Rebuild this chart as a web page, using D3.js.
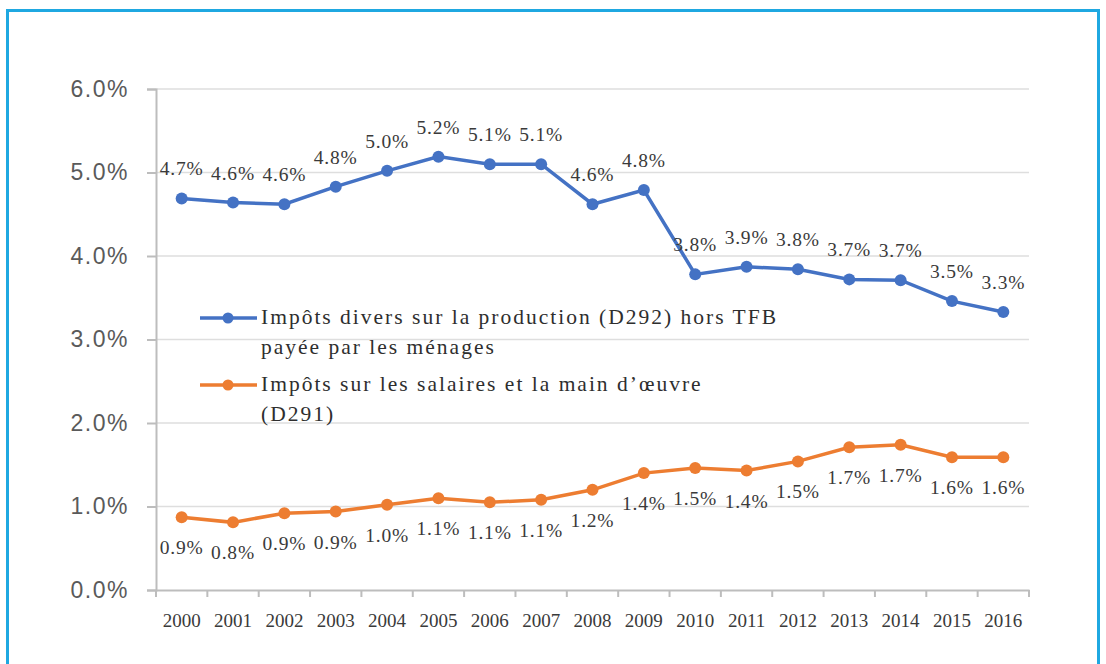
<!DOCTYPE html>
<html>
<head>
<meta charset="utf-8">
<script src="https://cdn.jsdelivr.net/npm/d3@7"></script>
<style>
  body { margin: 0; background: #fff; }
  svg { display: block; }
</style>
</head>
<body>
<div id="chart"></div>
<script>
const years = ['2000','2001','2002','2003','2004','2005','2006','2007','2008',
               '2009','2010','2011','2012','2013','2014','2015','2016'];
const impotsDivers = [4.69,4.64,4.62,4.83,5.02,5.19,5.10,5.10,4.62,4.79,3.78,3.87,3.84,3.72,3.71,3.46,3.33];
const impotsSalaires = [0.87,0.81,0.92,0.94,1.02,1.10,1.05,1.08,1.20,1.40,1.46,1.43,1.54,1.71,1.74,1.59,1.59];
const yTicks = [0,1,2,3,4,5,6];
const legendLabels = [
  ['Impôts divers sur la production (D292) hors TFB', 'payée par les ménages'],
  ['Impôts sur les salaires et la main d\u2019œuvre', '(D291)']
];

const W = 1106, H = 664,
      margin = {top: 89, left: 156, right: 77, bottom: 74},
      width = W - margin.left - margin.right,
      height = H - margin.top - margin.bottom;

const series = [
  {values: impotsDivers, color: '#4472c4', dy: -23},
  {values: impotsSalaires, color: '#ed7d31', dy: 37}
];

const svg = d3.select('#chart').append('svg')
  .attr('width', W)
  .attr('height', H);

// light blue frame
svg.append('rect')
  .attr('x', 7.5).attr('y', 10.5)
  .attr('width', 1091).attr('height', 700)
  .attr('fill', 'none')
  .attr('stroke', '#1fa8e1')
  .attr('stroke-width', 3);

const g = svg.append('g')
  .attr('transform', 'translate(' + margin.left + ',' + margin.top + ')');

const x = d3.scaleBand().domain(years).range([0, width]);
const y = d3.scaleLinear().domain([0, 6]).range([height, 0]);

// gridlines
g.selectAll('.grid')
  .data(yTicks.filter(d => d > 0))
  .enter().append('line')
    .attr('x1', 0).attr('x2', width)
    .attr('y1', d => y(d)).attr('y2', d => y(d))
    .attr('stroke', '#dedede')
    .attr('stroke-width', 1.5);

// y axis
const yAxis = g.append('g')
  .call(d3.axisLeft(y).tickValues(yTicks).tickSize(9).tickPadding(18)
    .tickFormat(d => d.toFixed(1) + '%'));
yAxis.select('.domain').attr('stroke', '#bdbdbd').attr('stroke-width', 2);
yAxis.selectAll('.tick line').attr('stroke', '#bdbdbd').attr('stroke-width', 2);
yAxis.selectAll('text')
  .attr('fill', '#5a5a5a')
  .style('font-family', '"Liberation Sans", Arial, sans-serif')
  .style('font-size', '23px')
  .style('letter-spacing', '1.5px');

// x axis with ticks at band edges
const xAxis = g.append('g')
  .attr('transform', 'translate(0,' + height + ')')
  .call(d3.axisBottom(x).tickSize(0).tickPadding(24));
xAxis.select('.domain').attr('stroke', '#bdbdbd').attr('stroke-width', 2);
xAxis.selectAll('text')
  .attr('fill', '#3a3a3a')
  .style('font-family', '"Liberation Serif", "Times New Roman", serif')
  .style('font-size', '19px');
xAxis.selectAll('.edge')
  .data(d3.range(years.length + 1))
  .enter().append('line')
    .attr('x1', i => i * x.bandwidth()).attr('x2', i => i * x.bandwidth())
    .attr('y1', 0).attr('y2', 7)
    .attr('stroke', '#bdbdbd')
    .attr('stroke-width', 2);

const cx = d => x(d) + x.bandwidth() / 2;

series.forEach(s => {
  const pts = years.map((yr, i) => ({yr: yr, v: s.values[i]}));
  g.append('path')
    .datum(pts)
    .attr('fill', 'none')
    .attr('stroke', s.color)
    .attr('stroke-width', 3.5)
    .attr('d', d3.line().x(d => cx(d.yr)).y(d => y(d.v)));
  g.selectAll(null)
    .data(pts)
    .enter().append('circle')
      .attr('cx', d => cx(d.yr))
      .attr('cy', d => y(d.v))
      .attr('r', 6)
      .attr('fill', s.color);
  g.selectAll(null)
    .data(pts)
    .enter().append('text')
      .attr('x', d => cx(d.yr))
      .attr('y', d => y(d.v) + s.dy)
      .attr('text-anchor', 'middle')
      .attr('fill', '#3a3a3a')
      .style('font-family', '"Liberation Serif", "Times New Roman", serif')
      .style('font-size', '19.5px')
      .style('letter-spacing', '0.8px')
      .text(d => d.v.toFixed(1) + '%');
});

// legend
const legend = svg.append('g').attr('transform', 'translate(200,318)');
series.forEach((s, i) => {
  const row = legend.append('g').attr('transform', 'translate(0,' + (i * 67) + ')');
  row.append('line')
    .attr('x1', 0).attr('x2', 57)
    .attr('stroke', s.color).attr('stroke-width', 3.5);
  row.append('circle')
    .attr('cx', 28).attr('r', 5.5).attr('fill', s.color);
  row.selectAll('text')
    .data(legendLabels[i])
    .enter().append('text')
      .attr('x', 61)
      .attr('y', (d, j) => 6 + j * 30)
      .attr('fill', '#2e2e2e')
      .style('font-family', '"Liberation Serif", "Times New Roman", serif')
      .style('font-size', '21.5px')
      .style('letter-spacing', '2px')
      .text(d => d);
});
</script>
</body>
</html>
